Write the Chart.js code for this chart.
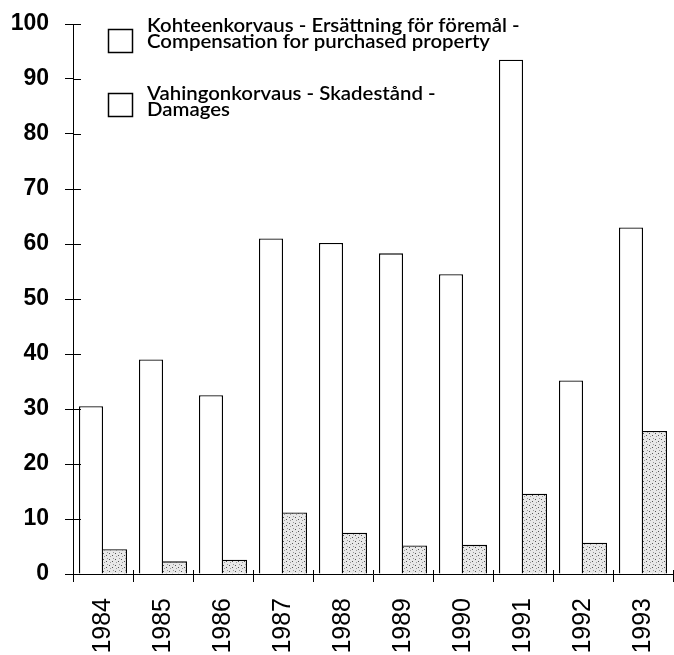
<!DOCTYPE html>
<html>
<head>
<meta charset="utf-8">
<script src="https://cdn.jsdelivr.net/npm/chart.js@4"></script>
<style>
  html, body { margin: 0; padding: 0; background: #fff; }
  #wrap { width: 674px; height: 655px; }
</style>
</head>
<body>
<div id="wrap"><canvas id="chart" width="674" height="655"></canvas></div>
<script>
// data
const years = ["1984", "1985", "1986", "1987", "1988", "1989", "1990", "1991", "1992", "1993"];
const compensation = [30.5, 39, 32.5, 61, 60.2, 58.3, 54.5, 93.5, 35.2, 63];
const damages = [4.5, 2.3, 2.6, 11.2, 7.5, 5.2, 5.3, 14.6, 5.7, 26];
const yTicks = [0, 10, 20, 30, 40, 50, 60, 70, 80, 90, 100];

const compensationLabel = ["Kohteenkorvaus - Ersättning för föremål -", "Compensation for purchased property"];
const damagesLabel = ["Vahingonkorvaus - Skadestånd -", "Damages"];

// stipple fill for the damages bars
const makeStipple = () => {
  const c = document.createElement("canvas");
  c.width = 6;
  c.height = 6;
  const g = c.getContext("2d");
  g.fillStyle = "#e8e8e8";
  g.fillRect(0, 0, 6, 6);
  g.fillStyle = "#555";
  g.fillRect(1, 1, 1, 1);
  g.fillRect(4, 3, 1, 1);
  g.fillStyle = "#999";
  g.fillRect(2, 4, 1, 1);
  g.fillRect(5, 0, 1, 1);
  return g.createPattern(c, "repeat");
};

const ctx = document.getElementById("chart").getContext("2d");
const stipple = makeStipple();

// axis ticks that cross the axis line, plus the custom two-line legend
const decorations = {
  id: "decorations",
  afterDraw(chart) {
    const { ctx, chartArea, scales } = chart;
    const left = chartArea.left;
    const bottom = chartArea.bottom;
    ctx.save();
    ctx.strokeStyle = "#000";
    ctx.lineWidth = 1;
    ctx.beginPath();
    // inner half of y ticks
    yTicks.forEach((v) => {
      const y = Math.round(scales.y.getPixelForValue(v)) + 0.5;
      ctx.moveTo(left, y);
      ctx.lineTo(left + 8, y);
    });
    // inner part of x ticks
    for (let i = 0; i <= years.length; i++) {
      const x = Math.round(left + (chartArea.right - left) * i / years.length) + 0.5;
      ctx.moveTo(x, bottom - 4);
      ctx.lineTo(x, bottom);
    }
    // axis line stubs past the corner
    ctx.moveTo(left - 8, Math.round(bottom) + 0.5);
    ctx.lineTo(left, Math.round(bottom) + 0.5);
    ctx.moveTo(Math.round(left) + 0.5, bottom);
    ctx.lineTo(Math.round(left) + 0.5, bottom + 8);
    ctx.stroke();

    // legend: two-line labels, squeezed horizontally like the original typeface
    const items = [
      { lines: compensationLabel, boxY: 29, baseY: 32 },
      { lines: damagesLabel, boxY: 93, baseY: 100 },
    ];
    const font = "600 19px Lato";
    ctx.font = font;
    const squeeze = 343 / ctx.measureText(compensationLabel[1]).width;
    items.forEach((it) => {
      ctx.fillStyle = "#fff";
      ctx.fillRect(108.5, it.boxY + 0.5, 24, 23);
      ctx.lineWidth = 1.5;
      ctx.strokeRect(108.5, it.boxY + 0.5, 24, 23);
      ctx.fillStyle = "#000";
      ctx.font = font;
      ctx.textBaseline = "alphabetic";
      ctx.textAlign = "left";
      it.lines.forEach((line, i) => {
        ctx.save();
        ctx.translate(147, it.baseY + i * 15.5);
        ctx.scale(squeeze, 1);
        ctx.fillText(line, 0, 0);
        ctx.restore();
      });
    });
    ctx.restore();
  },
};

new Chart(ctx, {
  type: "bar",
  data: {
    labels: years,
    datasets: [
      {
        label: compensationLabel.join(" "),
        data: compensation,
        backgroundColor: "#ffffff",
        borderColor: "#000",
        borderWidth: 1.3,
        categoryPercentage: 0.8,
        barPercentage: 1.0,
      },
      {
        label: damagesLabel.join(" "),
        data: damages,
        backgroundColor: stipple,
        borderColor: "#000",
        // shares its left edge with the white bar
        borderWidth: { top: 1.3, right: 1.3, left: 0, bottom: 0 },
        borderSkipped: false,
        categoryPercentage: 0.8,
        barPercentage: 1.0,
      },
    ],
  },
  options: {
    responsive: false,
    animation: false,
    layout: { padding: { top: 24, right: 1, left: 0, bottom: 0 } },
    plugins: {
      legend: { display: false },
      tooltip: { enabled: false },
    },
    scales: {
      x: {
        grid: {
          drawOnChartArea: false,
          offset: true,
          tickLength: 8,
          color: "#000",
        },
        border: { color: "#000", width: 1 },
        ticks: {
          minRotation: 90,
          maxRotation: 90,
          padding: 16,
          color: "#000",
          font: { family: "'Liberation Sans', Arial", size: 25 },
        },
        afterFit(scale) {
          scale.height = 81;
          scale.paddingLeft = 0;
          scale.paddingRight = 0;
        },
      },
      y: {
        min: 0,
        max: 100,
        grid: {
          drawOnChartArea: false,
          tickLength: 8,
          color: "#000",
        },
        border: { color: "#000", width: 1 },
        ticks: {
          stepSize: 10,
          padding: 16,
          color: "#000",
          font: { family: "'Liberation Sans', Arial", size: 23, weight: "bold" },
        },
        afterFit(scale) {
          scale.width = 73;
          scale.paddingTop = 0;
          scale.paddingBottom = 0;
        },
      },
    },
  },
  plugins: [decorations],
});
</script>
</body>
</html>
